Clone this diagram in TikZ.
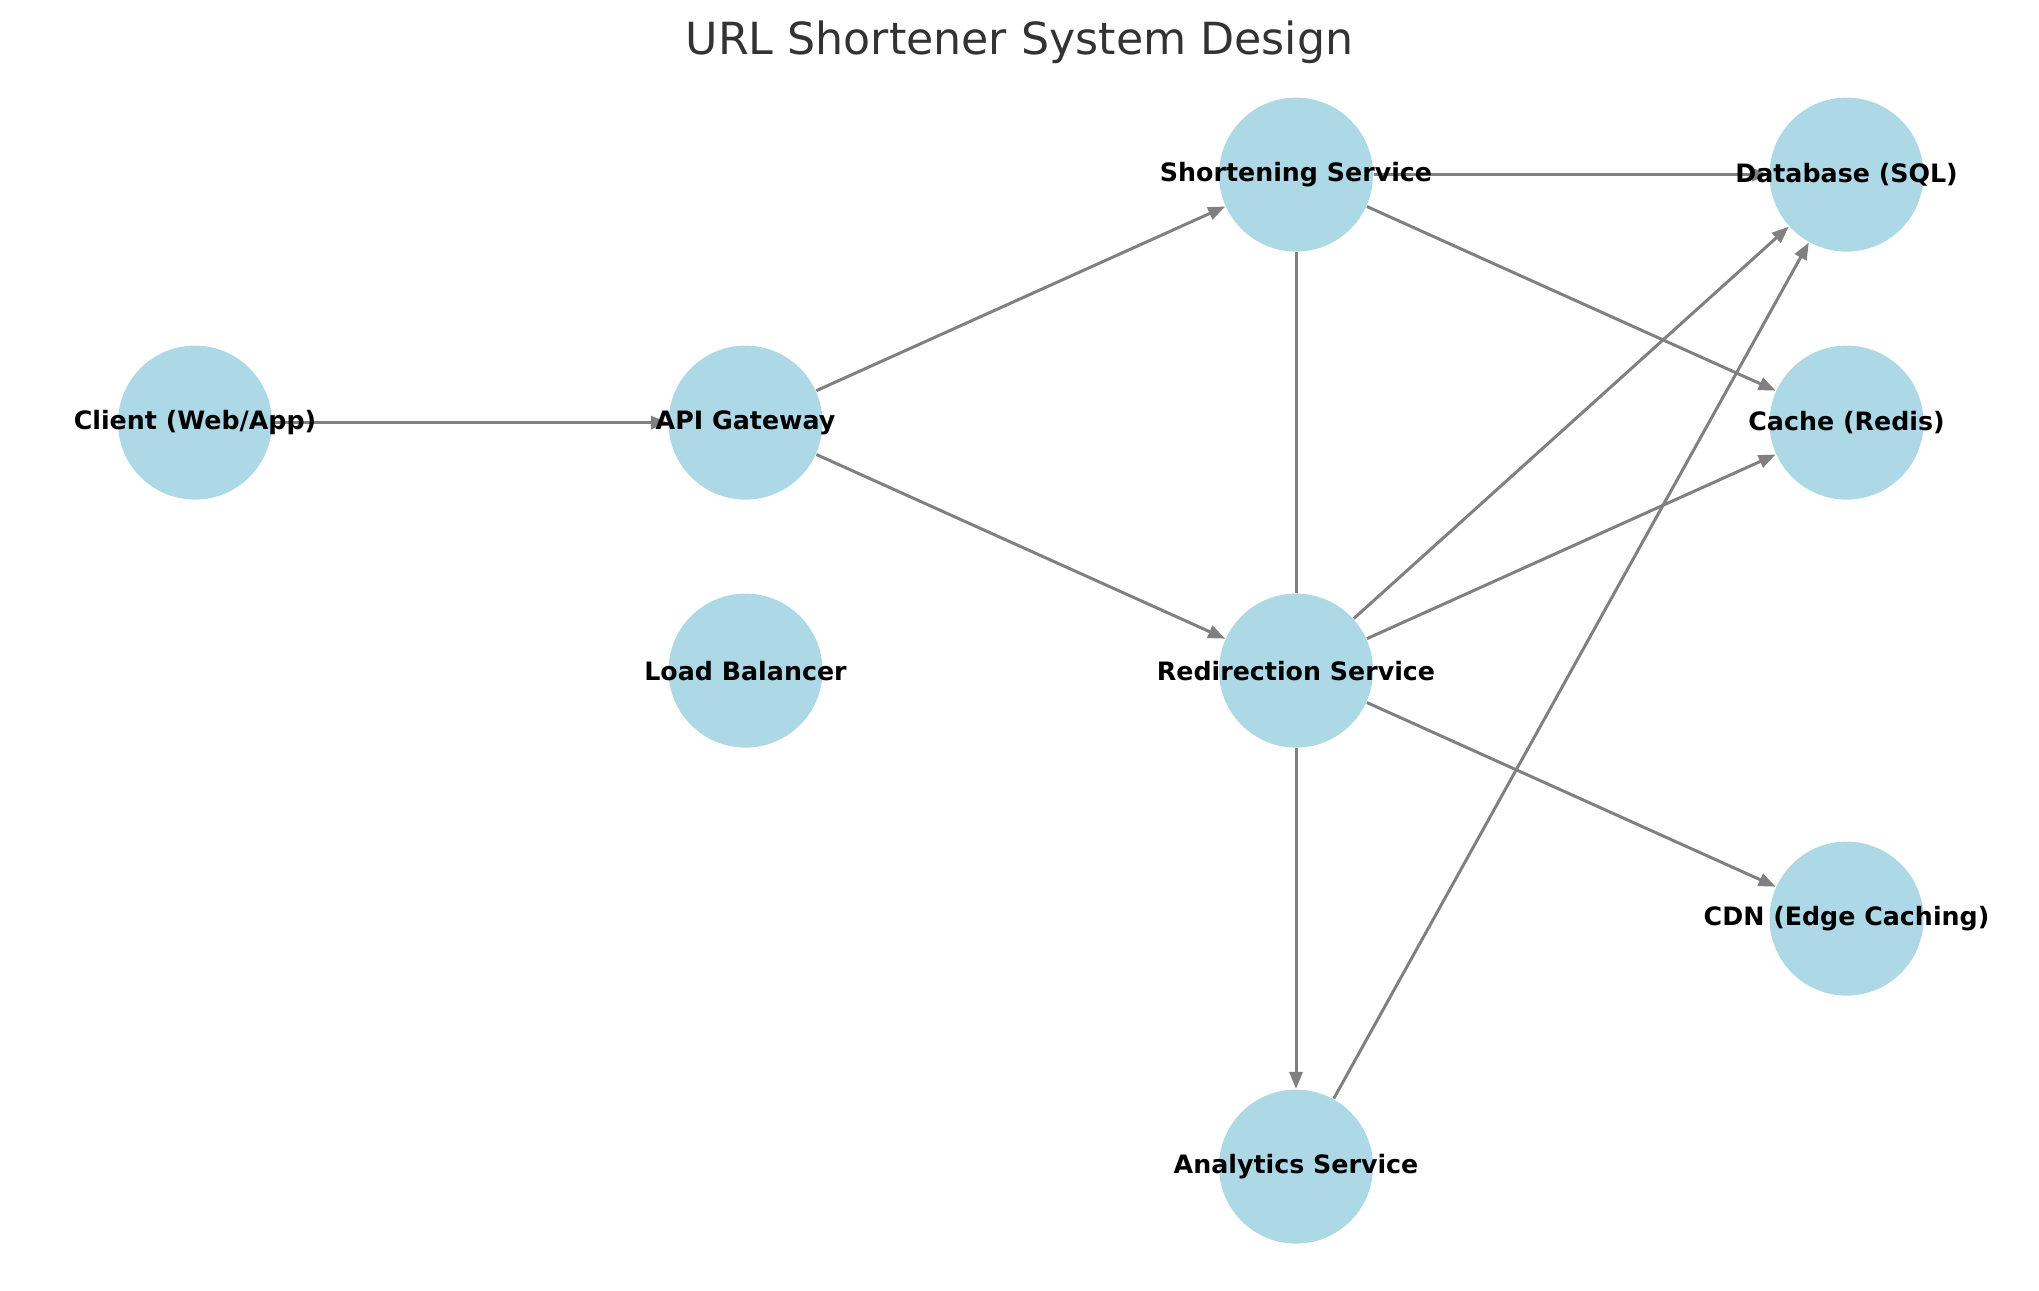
\documentclass[tikz,border=0pt]{standalone}
\usepackage{fontspec}
\setmainfont{DejaVu Sans}
\usepackage{tikz}
\usetikzlibrary{arrows.meta,positioning,backgrounds}
\definecolor{nodefill}{HTML}{ADD8E6}
\definecolor{edgegray}{HTML}{808080}
\definecolor{titlecol}{HTML}{333333}
\tikzset{
  >={Triangle[length=1.7mm,width=1.3mm]},
  svc/.style={circle,fill=nodefill,minimum size=15.4mm,inner sep=0pt},
  lbl/.style={font=\fontsize{7.2pt}{8pt}\selectfont\bfseries,text=black,inner sep=0pt},
  arr/.style={->,draw=edgegray,line width=0.85pt},
  link/.style={draw=edgegray,line width=0.85pt},
}
\begin{document}
\begin{tikzpicture}[node distance=2.48cm and 5.505cm,on grid]
\useasboundingbox (0,0) rectangle (20.39,12.90);
\node[font=\fontsize{12.6pt}{15pt}\selectfont,text=titlecol,anchor=base] (title) at (10.195,12.35) {URL Shortener System Design};
\node[svc,label={[lbl]center:Client (Web/App)}] (client) at (1.95,8.674) {};
\node[svc,right=of client,label={[lbl]center:API Gateway}] (api) {};
\node[svc,below=of api,label={[lbl]center:Load Balancer}] (lb) {};
\node[svc,above right=of api,label={[lbl]center:Shortening Service}] (short) {};
\node[svc,below right=of api,label={[lbl]center:Redirection Service}] (redir) {};
\node[svc,below=4.96cm of redir,label={[lbl]center:Analytics Service}] (analytics) {};
\node[svc,right=of short,label={[lbl]center:Database (SQL)}] (db) {};
\node[svc,below=of db,label={[lbl]center:Cache (Redis)}] (cache) {};
\node[svc,below right=of redir,label={[lbl]center:CDN (Edge Caching)}] (cdn) {};
\begin{scope}[on background layer]
\foreach \u/\v in {client/api,api/short,api/redir,short/db,short/cache,redir/db,redir/cache,redir/cdn,redir/analytics,analytics/db} \draw[arr] (\u)--(\v);
\draw[link] (short)--(redir);
\end{scope}
\end{tikzpicture}
\end{document}
